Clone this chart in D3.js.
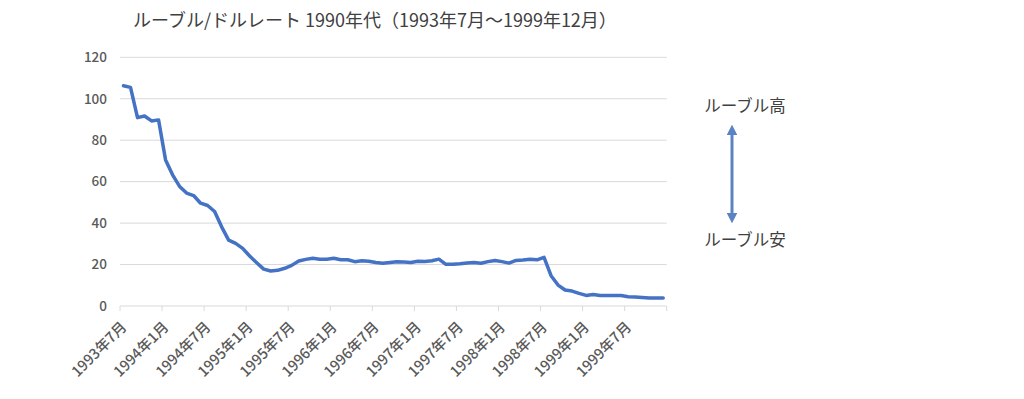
<!DOCTYPE html>
<html>
<head>
<meta charset="utf-8">
<script src="https://cdn.jsdelivr.net/npm/d3@7"></script>
<style>
    body { margin: 0; background: #fff; }
    svg { display: block; font-family: "Noto Sans CJK JP", "Noto Sans", sans-serif; }
</style>
</head>
<body>
<svg id="chart" width="1024" height="399"></svg>
<script>
// ルーブル/ドル 月次レート 1993年7月〜1999年12月 (78か月)
var startYear = 1993, startMonth = 7, monthCount = 78
var rate = [
    106.3, 105.5, 90.9, 91.7, 89.3, 89.8, 70.5, 63.3, 57.7, 54.5, 53.3, 49.6,
    48.5, 45.6, 38.2, 31.8, 30.2, 27.8, 24.1, 20.9, 17.8, 16.9, 17.2, 18.2,
    19.6, 21.7, 22.5, 23.0, 22.6, 22.6, 23.0, 22.3, 22.3, 21.4, 21.8, 21.6,
    21.0, 20.6, 21.0, 21.4, 21.2, 21.0, 21.6, 21.5, 21.8, 22.6, 20.1, 20.1,
    20.4, 20.8, 21.0, 20.6, 21.4, 22.0, 21.4, 20.7, 22.0, 22.2, 22.6, 22.3,
    23.5, 14.6, 10.1, 7.7, 7.2, 6.1, 5.1, 5.5, 5.1, 5.1, 5.1, 5.1,
    4.5, 4.3, 4.1, 3.9, 3.9, 3.9
]
var yTicks = [0, 20, 40, 60, 80, 100, 120]
var xTickLabels = ['1993年7月', '1994年1月', '1994年7月', '1995年1月', '1995年7月', '1996年1月', '1996年7月',
    '1997年1月', '1997年7月', '1998年1月', '1998年7月', '1999年1月', '1999年7月']
var labelEvery = 6
var title = 'ルーブル/ドルレート 1990年代（1993年7月～1999年12月）'
var noteHigh = 'ルーブル高', noteLow = 'ルーブル安'

var months = []
for (let i = 0; i < monthCount; i++) {
    let m = startMonth - 1 + i
    months.push((startYear + Math.floor(m / 12)) + '年' + (m % 12 + 1) + '月')
}

var svg = d3.select('#chart')
var margin = { left: 120, right: 357.3, top: 57.3, bottom: 93 }
var W = +svg.attr('width'), H = +svg.attr('height')

var x = d3.scaleBand()
    .domain(months)
    .range([margin.left, W - margin.right])
    .padding(0)
var y = d3.scaleLinear()
    .domain([0, 120])
    .range([H - margin.bottom, margin.top])

// 目盛線
svg.append('g')
    .selectAll('line')
    .data(yTicks.filter(d => d > 0))
    .join('line')
    .attr('x1', margin.left)
    .attr('x2', W - margin.right)
    .attr('y1', d => y(d))
    .attr('y2', d => y(d))
    .attr('stroke', '#d9d9d9')
    .attr('stroke-width', 1)

// Y軸ラベル
var yAxis = svg.append('g')
    .attr('transform', `translate(${margin.left},0)`)
    .call(d3.axisLeft(y).tickValues(yTicks).tickSize(0).tickPadding(13))
yAxis.select('.domain').remove()
yAxis.selectAll('text')
    .attr('fill', '#595959')
    .attr('font-size', 13.5)
    .attr('font-weight', 500)
    .attr('font-family', '"Noto Sans CJK JP", sans-serif')

// X軸
var gx = svg.append('g')
gx.append('line')
    .attr('x1', margin.left)
    .attr('x2', W - margin.right)
    .attr('y1', y(0))
    .attr('y2', y(0))
    .attr('stroke', '#d9d9d9')
    .attr('stroke-width', 1)
var tickIdx = d3.range(0, monthCount, labelEvery)
gx.selectAll('line.tick')
    .data(tickIdx.concat([monthCount]))
    .join('line')
    .attr('class', 'tick')
    .attr('x1', d => d < monthCount ? x(months[d]) : x.range()[1])
    .attr('x2', d => d < monthCount ? x(months[d]) : x.range()[1])
    .attr('y1', y(0))
    .attr('y2', y(0) + 5)
    .attr('stroke', '#d9d9d9')
    .attr('stroke-width', 1)
gx.selectAll('text')
    .data(xTickLabels)
    .join('text')
    .attr('transform', (d, i) => `translate(${x(months[i * labelEvery]) + x.bandwidth() / 2 + 4},${y(0) + 22}) rotate(-45)`)
    .attr('text-anchor', 'end')
    .attr('fill', '#595959')
    .attr('font-size', 14.5)
    .attr('font-weight', 500)
    .text(d => d)

// 折れ線
var line = d3.line()
    .x((d, i) => x(months[i]) + x.bandwidth() / 2)
    .y(d => y(d))
    .curve(d3.curveLinear)
svg.append('path')
    .datum(rate)
    .attr('d', line)
    .attr('fill', 'none')
    .attr('stroke', '#4472c4')
    .attr('stroke-width', 3.5)
    .attr('stroke-linejoin', 'round')
    .attr('stroke-linecap', 'round')

// タイトル
svg.append('text')
    .attr('x', 133)
    .attr('y', 27)
    .attr('font-size', 18)
    .attr('fill', '#404040')
    .text(title)

// 注記（矢印）
var note = svg.append('g')
var defs = svg.append('defs')
defs.append('marker')
    .attr('id', 'head')
    .attr('viewBox', '0 0 10 10')
    .attr('refX', 5).attr('refY', 5)
    .attr('markerWidth', 3.6).attr('markerHeight', 3.6)
    .attr('orient', 'auto-start-reverse')
    .append('path')
    .attr('d', 'M0,0 L10,5 L0,10 Z')
    .attr('fill', '#5b83c3')
note.append('line')
    .attr('x1', 732).attr('x2', 732)
    .attr('y1', 130).attr('y2', 218)
    .attr('stroke', '#5b83c3')
    .attr('stroke-width', 3)
    .attr('marker-start', 'url(#head)')
    .attr('marker-end', 'url(#head)')
note.append('text')
    .attr('x', 745).attr('y', 112)
    .attr('text-anchor', 'middle')
    .attr('font-size', 16.5)
    .attr('fill', '#404040')
    .text(noteHigh)
note.append('text')
    .attr('x', 745).attr('y', 246)
    .attr('text-anchor', 'middle')
    .attr('font-size', 16.5)
    .attr('fill', '#404040')
    .text(noteLow)
</script>
</body>
</html>
